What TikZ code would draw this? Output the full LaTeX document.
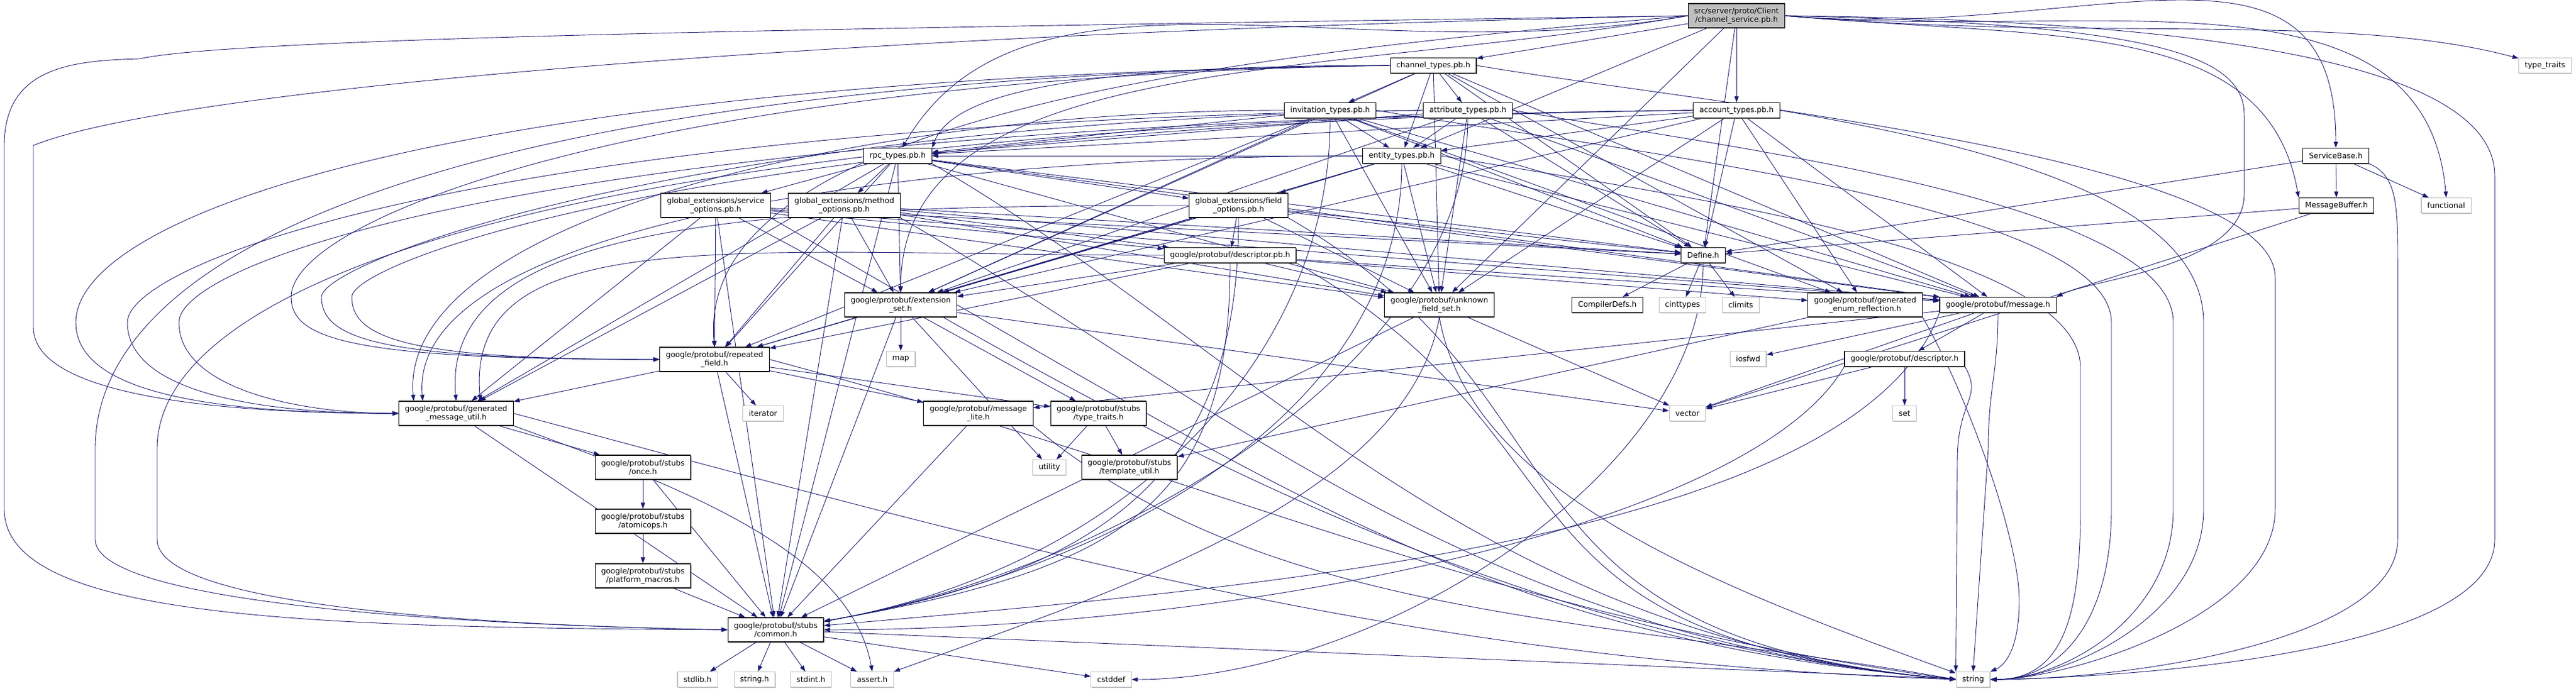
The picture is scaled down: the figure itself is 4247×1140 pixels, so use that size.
\documentclass[tikz,border=0pt]{standalone}
\usepackage{fontspec}
\setmainfont{DejaVu Sans}
\usetikzlibrary{arrows.meta,backgrounds,shadows}
\definecolor{midnightblue}{RGB}{25,25,112}
\definecolor{nodegray}{RGB}{191,191,191}
\tikzset{
  hdrbase/.style={fill=white,line width=1.1pt,inner xsep=10pt,inner ysep=2pt,
    minimum height=25pt,font=\fontsize{12.5}{14}\selectfont},
  hdr/.style={hdrbase,draw=black,
    drop shadow={shadow xshift=0.6pt,shadow yshift=-1.5pt,fill=black!70,opacity=1}},
  hdrtwo/.style={hdr,align=center,minimum height=40pt},
  syshdr/.style={hdrbase,draw=nodegray,
    drop shadow={shadow xshift=0.6pt,shadow yshift=-1.5pt,fill=nodegray,opacity=1}},
  srchdr/.style={hdrtwo,fill=nodegray},
  incl/.style={draw=midnightblue,line width=0.9pt,-{Triangle[length=10pt,width=7pt]}}
}
\begin{document}
\begin{tikzpicture}[x=1pt,y=1pt]
  \useasboundingbox (0,0) rectangle (4247,1140);
  %
  % Project headers
  \node[srchdr] (src) at (2863,1114) {src/server/proto/Client\\/channel\_service.pb.h};
  \node[hdr] (chan) at (2363,1032) {channel\_types.pb.h};
  \node[hdr] (invit) at (2193,958) {invitation\_types.pb.h};
  \node[hdr] (attr) at (2420,958) {attribute\_types.pb.h};
  \node[hdr] (acct) at (2863,958) {account\_types.pb.h};
  \node[hdr] (rpc) at (1480,883) {rpc\_types.pb.h};
  \node[hdr] (entity) at (2311,883) {entity\_types.pb.h};
  \node[hdrtwo] (svcopt) at (1180,801) {global\_extensions/service\\\_options.pb.h};
  \node[hdrtwo] (methopt) at (1392,801) {global\_extensions/method\\\_options.pb.h};
  \node[hdrtwo] (fieldopt) at (2042,801) {global\_extensions/field\\\_options.pb.h};
  \node[hdr] (svcbase) at (3851,883) {ServiceBase.h};
  \node[hdr] (msgbuf) at (3852,801) {MessageBuffer.h};
  \node[hdr] (define) at (2808,719) {Define.h};
  \node[hdr] (compdefs) at (2650,637) {CompilerDefs.h};
  %
  % Protobuf headers
  \node[hdr] (descpb) at (2028,719) {google/protobuf/descriptor.pb.h};
  \node[hdrtwo] (extset) at (1485,637) {google/protobuf/extension\\\_set.h};
  \node[hdrtwo] (unknown) at (2373,637) {google/protobuf/unknown\\\_field\_set.h};
  \node[hdrtwo] (enumrefl) at (3075,637) {google/protobuf/generated\\\_enum\_reflection.h};
  \node[hdr] (message) at (3294,637) {google/protobuf/message.h};
  \node[hdrtwo] (repeated) at (1178,547) {google/protobuf/repeated\\\_field.h};
  \node[hdr] (desc) at (3140,548) {google/protobuf/descriptor.h};
  \node[hdrtwo] (gmu) at (752,458) {google/protobuf/generated\\\_message\_util.h};
  \node[hdrtwo] (msglite) at (1613,458) {google/protobuf/message\\\_lite.h};
  \node[hdrtwo] (stubtt) at (1811,458) {google/protobuf/stubs\\/type\_traits.h};
  \node[hdrtwo] (once) at (1060,369) {google/protobuf/stubs\\/once.h};
  \node[hdrtwo] (tmplutil) at (1862,369) {google/protobuf/stubs\\/template\_util.h};
  \node[hdrtwo] (atomic) at (1060,280) {google/protobuf/stubs\\/atomicops.h};
  \node[hdrtwo] (platform) at (1060,190) {google/protobuf/stubs\\/platform\_macros.h};
  \node[hdrtwo] (common) at (1279,101) {google/protobuf/stubs\\/common.h};
  %
  % System headers
  \node[syshdr] (typetraits) at (4196,1032) {type\_traits};
  \node[syshdr] (functional) at (4033,801) {functional};
  \node[syshdr] (cinttypes) at (2774,637) {cinttypes};
  \node[syshdr] (climits) at (2870,637) {climits};
  \node[syshdr] (map) at (1485,548) {map};
  \node[syshdr] (iosfwd) at (2882,548) {iosfwd};
  \node[syshdr] (iterator) at (1258,458) {iterator};
  \node[syshdr] (vector) at (2782,458) {vector};
  \node[syshdr] (set) at (3140,458) {set};
  \node[syshdr] (utility) at (1730,369) {utility};
  \node[syshdr] (stdlib) at (1150,19) {stdlib.h};
  \node[syshdr] (stringh) at (1244,19) {string.h};
  \node[syshdr] (stdint) at (1337,19) {stdint.h};
  \node[syshdr] (assert) at (1438,19) {assert.h};
  \node[syshdr] (cstddef) at (1832,19) {cstddef};
  \node[syshdr] (string) at (3253,19) {string};
  %
  \begin{scope}[on background layer]
  % Includes of the service header
  \draw[incl] (src) -- (chan);
  \draw[incl] (src) -- (acct);
  \draw[incl] (src) -- (entity);
  \draw[incl] (src) -- (define);
  \draw[incl] (src) -- (unknown);
  \draw[incl] (src.west) .. controls +(190:560) and +(60:400) .. (rpc.60);
  \draw[incl] (src.west) .. controls +(190:600) and +(90:400) .. (extset.north);
  \draw[incl] (src.west) .. controls +(185:650) and +(95:400) .. (repeated.north);
  \draw[incl] (src.west) .. controls (1500,1095) and (400,1080) .. (230,1043)
    .. controls (120,1040) and (7,1030) .. (7,900) -- (7,300)
    .. controls (7,120) and (500,105) .. (common.west);
  \draw[incl] (src.west) .. controls (1500,1090) and (300,1000) .. (55,900) -- (55,600)
    .. controls (55,480) and (400,458) .. (gmu.west);
  \draw[incl] (src.east) .. controls (3550,1100) and (3700,1050) .. (3700,950) -- (3700,820)
    .. controls (3700,700) and (3450,680) .. (message.north east);
  \draw[incl] (src.east) .. controls (3800,1105) and (4113,1000) .. (4113,850) -- (4113,250)
    .. controls (4113,60) and (3500,22) .. (string.east);
  \draw[incl] (src.east) .. controls +(-5:500) and +(90:400) .. (svcbase.north);
  \draw[incl] (src.east) .. controls +(-5:450) and +(100:300) .. (msgbuf.north west);
  \draw[incl] (src.east) .. controls +(-5:500) and +(95:400) .. (functional.north);
  \draw[incl] (src.east) .. controls +(-5:500) and +(165:300) .. (typetraits.165);
  %
  % Includes between the generated headers
  \draw[incl] (chan) -- (invit);
  \draw[incl] (chan) -- (attr);
  \draw[incl] (chan) -- (entity);
  \draw[incl] (chan.west) .. controls +(180:500) and +(70:100) .. (rpc.north east);
  \foreach \s in {invit,attr,acct} {
    \draw[incl] (\s) -- (entity);
    \draw[incl] (\s) -- (rpc);
  }
  \draw[incl] (entity) -- (rpc);
  \draw[incl] (entity) -- (fieldopt);
  \foreach \t in {svcopt,methopt,fieldopt} {
    \draw[incl] (rpc) -- (\t);
    \draw[incl] (\t) -- (descpb);
  }
  \foreach \s in {descpb,acct,chan,invit}
    \draw[incl] (\s) -- (enumrefl);
  %
  % Generated headers into the protobuf runtime
  \foreach \s in {chan,invit,attr,acct,entity,rpc,svcopt,methopt,fieldopt,descpb} {
    \draw[incl] (\s) -- (extset);
    \draw[incl] (\s) -- (message);
    \draw[incl] (\s) -- (unknown);
  }
  \foreach \s in {invit,entity,rpc,svcopt,methopt,fieldopt,descpb}
    \draw[incl] (\s) -- (repeated);
  \foreach \s/\L/\y in {chan/480/1032,attr/530/958,acct/580/958}
    \draw[incl] (\s.west) .. controls (\L+600,\y-20) and (\L,\y-250) .. (\L,650)
      .. controls (\L,580) and (\L+100,547) .. (repeated.west);
  \foreach \s/\L/\y in {chan/125/1032,attr/210/958,acct/295/958}
    \draw[incl] (\s.west) .. controls (\L+600,\y-20) and (\L,\y-250) .. (\L,608)
      .. controls (\L,498) and (\L+200,458) .. (gmu.west);
  \foreach \s/\dx in {invit/-70,entity/-55,fieldopt/0,descpb/40}
    \draw[incl] (\s.west) .. controls +(180:700) and +(95:300) .. ([xshift=\dx pt]gmu.north);
  \foreach \s in {rpc,svcopt,methopt}
    \draw[incl] (\s) -- (gmu);
  \foreach \s/\L/\y in {chan/157/1032,acct/259/958}
    \draw[incl] (\s.west) .. controls (\L+600,\y-20) and (\L,\y-300) .. (\L,400) -- (\L,250)
      .. controls (\L,150) and (700,110) .. (common.west);
  \foreach \s in {invit,attr,entity,fieldopt,descpb}
    \draw[incl] (\s.south) .. controls +(-90:400) and +(10:500) .. (common.10);
  \foreach \s in {rpc,svcopt,methopt}
    \draw[incl] (\s) -- (common);
  \foreach \s/\X/\y in {chan/3751/1032,acct/3633/958,attr/3583/958,invit/3481/958,entity/3430/883}
    \draw[incl] (\s.east) .. controls +(350,-60) and (\X,\y-150) .. (\X,\y-350) -- (\X,300)
      .. controls (\X,120) and (3400,19) .. (string.east);
  \foreach \s in {rpc,svcopt,methopt,fieldopt,descpb}
    \draw[incl] (\s.south east) .. controls +(-30:600) and +(175:800) .. (string.west);
  \foreach \s in {chan,invit,attr,acct,entity,rpc,svcopt,methopt,fieldopt,svcbase,msgbuf}
    \draw[incl] (\s) -- (define);
  %
  % Runtime headers
  \foreach \t in {map,vector,utility,common,stubtt}
    \draw[incl] (extset) -- (\t);
  \draw[incl] (extset.east) .. controls +(-30:700) and +(175:700) .. (string.west);
  \foreach \t in {iterator,common,gmu,msglite,stubtt}
    \draw[incl] (repeated) -- (\t);
  \draw[incl] (repeated.east) .. controls +(-15:800) and +(172:800) .. (string.west);
  \draw[incl] (gmu) -- (once);
  \draw[incl] (gmu) -- (common);
  \draw[incl] (gmu.south east) .. controls +(-20:300) and +(100:200) .. (assert.north);
  \draw[incl] (gmu.east) .. controls +(-15:900) and +(178:900) .. (string.west);
  \draw[incl] (once) -- (atomic);
  \draw[incl] (once) -- (common);
  \draw[incl] (atomic) -- (platform);
  \draw[incl] (platform) -- (common);
  \foreach \t in {stdlib,stringh,stdint,assert,cstddef,string}
    \draw[incl] (common) -- (\t);
  \draw[incl] (msglite) -- (common);
  \draw[incl] (msglite.south east) .. controls +(-40:500) and +(170:600) .. (string.west);
  \draw[incl] (stubtt) -- (utility);
  \draw[incl] (stubtt) -- (tmplutil);
  \draw[incl] (enumrefl) -- (tmplutil);
  \draw[incl] (enumrefl.south east) .. controls +(-60:150) and (3329,250) .. (3329,150)
    .. controls (3329,60) and (3300,40) .. (string.north east);
  \foreach \t in {iosfwd,vector,msglite,desc}
    \draw[incl] (message) -- (\t);
  \draw[incl] (message.south) .. controls +(-90:100) and (3278,500) .. (3278,400) -- (string.north);
  \draw[incl] (message.south west) .. controls +(-110:400) and +(5:700) .. (common.5);
  \foreach \t in {set,vector}
    \draw[incl] (desc) -- (\t);
  \draw[incl] (desc.south east) .. controls +(-60:60) and (3227,480) .. (3227,380) -- (string.north west);
  \draw[incl] (desc.south west) .. controls +(-120:300) and +(0:700) .. (common.east);
  \draw[incl] (unknown) -- (vector);
  \draw[incl] (unknown) -- (common);
  \draw[incl] (unknown.south) .. controls +(-80:300) and +(160:400) .. (string.160);
  \draw[incl] (unknown.south) .. controls +(-100:300) and +(20:400) .. (assert.20);
  \foreach \t in {compdefs,cinttypes,climits}
    \draw[incl] (define) -- (\t);
  \draw[incl] (define.south) .. controls +(-90:350) and +(0:400) .. (cstddef.east);
  \draw[incl] (svcbase) -- (msgbuf);
  \draw[incl] (svcbase) -- (functional);
  \draw[incl] (svcbase.south east) .. controls (3953,850) and (3953,800) .. (3953,700) -- (3953,250)
    .. controls (3953,80) and (3500,19) .. (string.east);
  \draw[incl] (msgbuf) -- (vector);
  \end{scope}
\end{tikzpicture}
\end{document}
